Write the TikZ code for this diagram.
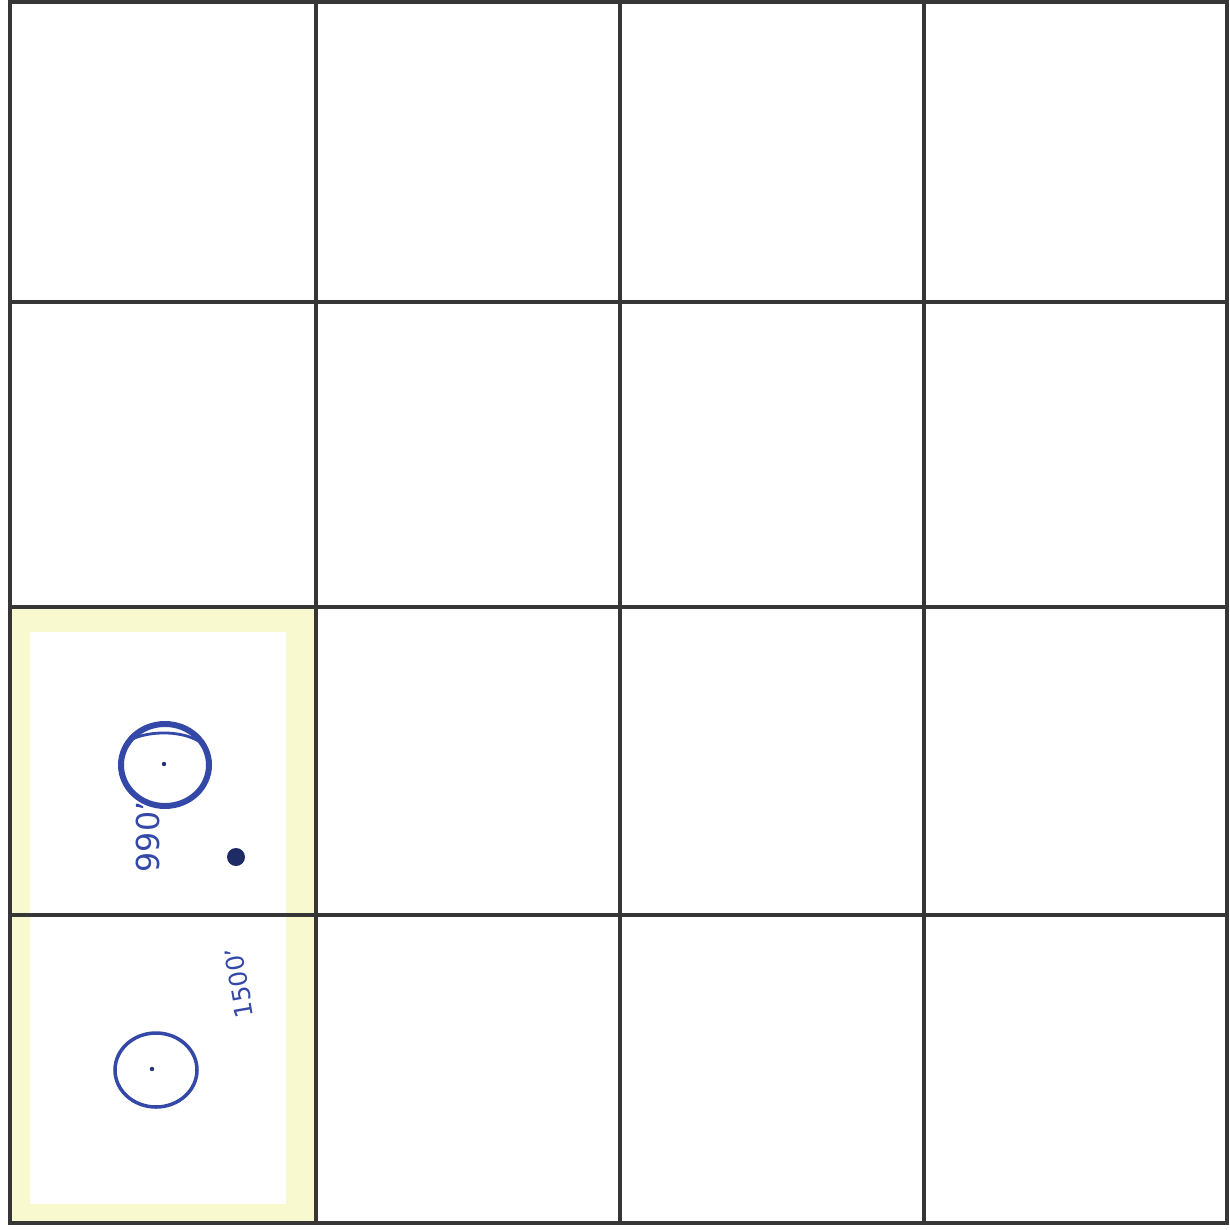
\documentclass[tikz,border=0pt]{standalone}
\usepackage{fontspec}
\setmainfont{DejaVu Sans}
\definecolor{gridc}{HTML}{363636}
\definecolor{ink}{HTML}{3448A8}
\definecolor{hilite}{HTML}{F9F9CF}
\tikzset{
  gridline/.style={draw=gridc, line width=0.9pt},
  inklabel/.style={text=ink, inner sep=0pt}
}
\begin{document}
\begin{tikzpicture}[x=0.01cm, y=-0.01cm]
\useasboundingbox (0,0) rectangle (1230,1230);
\fill[white] (0,0) rectangle (1230,1230);
% highlight in the bottom-left column
\fill[hilite] (10,608) rectangle (314,1223);
\fill[white] (30,632) rectangle (286,1204);
% grid
\draw[gridline] (10,2) rectangle (1227,1223);
\foreach \x in {316,620,924} \draw[gridline] (\x,2) -- (\x,1223);
\foreach \y in {302,607,915} \draw[gridline] (10,\y) -- (1227,\y);
% upper well
\draw[ink, line width=1.7pt] (165,765) ellipse [x radius=44, y radius=41];
\draw[ink, line width=0.8pt] (130,740) .. controls (150,730) and (185,730) .. (203,744);
\fill[ink!70!black] (164,764) circle (2.2);
\fill[ink!60!black] (236,857) circle (9);
\node[inklabel, rotate=90, font=\fontsize{9}{10}\selectfont] (lblA) at (148,837) {990'};
% lower well
\draw[ink, line width=1.0pt] (156,1070) ellipse [x radius=41, y radius=37];
\fill[ink!70!black] (152,1069) circle (2.2);
\node[inklabel, rotate=100, font=\fontsize{7}{8}\selectfont] (lblB) at (239,983) {1500'};
\end{tikzpicture}
\end{document}
